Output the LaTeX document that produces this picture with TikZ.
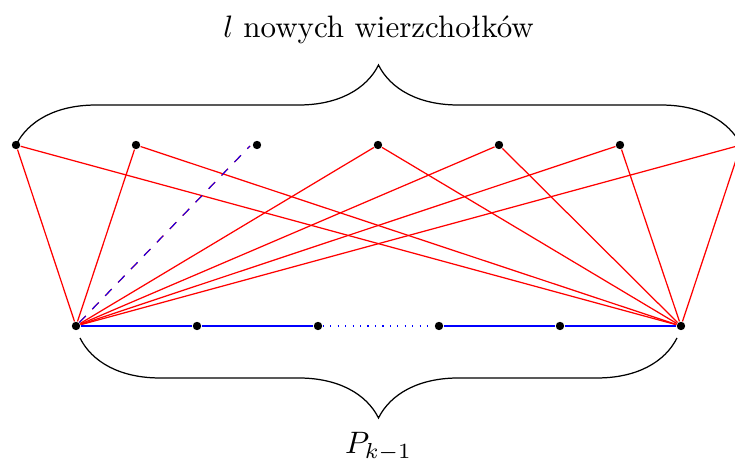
\documentclass[tikz,border=0pt]{standalone}
\usetikzlibrary{decorations.pathreplacing}
\begin{document}
\begin{tikzpicture}[x=0.3226pt,y=-0.3226pt,
  dot/.style={circle,fill=black,inner sep=0pt,minimum size=2.7pt},
  redge/.style={red},
  bedge/.style={blue},
  brc/.style={decorate,decoration={brace,amplitude=25.8pt}}]
\useasboundingbox (0,0) rectangle (735,459);
% top nodes
\node[dot] (t1) at (16,145) {};
\node[dot] (t2) at (136,145) {};
\node[dot] (t3) at (257,145) {};
\node[dot] (t4) at (378,145) {};
\node[dot] (t5) at (499,145) {};
\node[dot] (t6) at (620,145) {};
\node[dot] (t7) at (741,145) {};
\coordinate (d3) at (250,146);
% bottom nodes
\node[dot] (b1) at (76,326) {};
\node[dot] (b2) at (197,326) {};
\node[dot] (b3) at (318,326) {};
\node[dot] (b4) at (439,326) {};
\node[dot] (b5) at (560,326) {};
\node[dot] (b6) at (681,326) {};
% path
\draw[bedge] (b1) -- (b2) -- (b3);
\draw[bedge,dotted] (b3) -- (b4);
\draw[bedge] (b4) -- (b5) -- (b6);
% red edges
\foreach \t in {t1,t2,t4,t5,t6,t7}{
  \draw[redge] (b1) -- (\t);
  \draw[redge] (b6) -- (\t);
}
\draw[red,dashed] (b1) -- (d3);
\draw[blue,dashed,line width=0.3pt] (b1) -- (d3);
% braces
\coordinate (bl) at (16,145);
\coordinate (br) at (741,145);
\draw[brc] (bl) -- (br) node[midway,yshift=37pt] (top) {$l$ nowych wierzchołków};
\coordinate (ql) at (80,338);
\coordinate (qr) at (677,338);
\draw[brc] (qr) -- (ql) node[midway,yshift=-35pt] (bot) {$P_{k-1}$};
\end{tikzpicture}
\end{document}
